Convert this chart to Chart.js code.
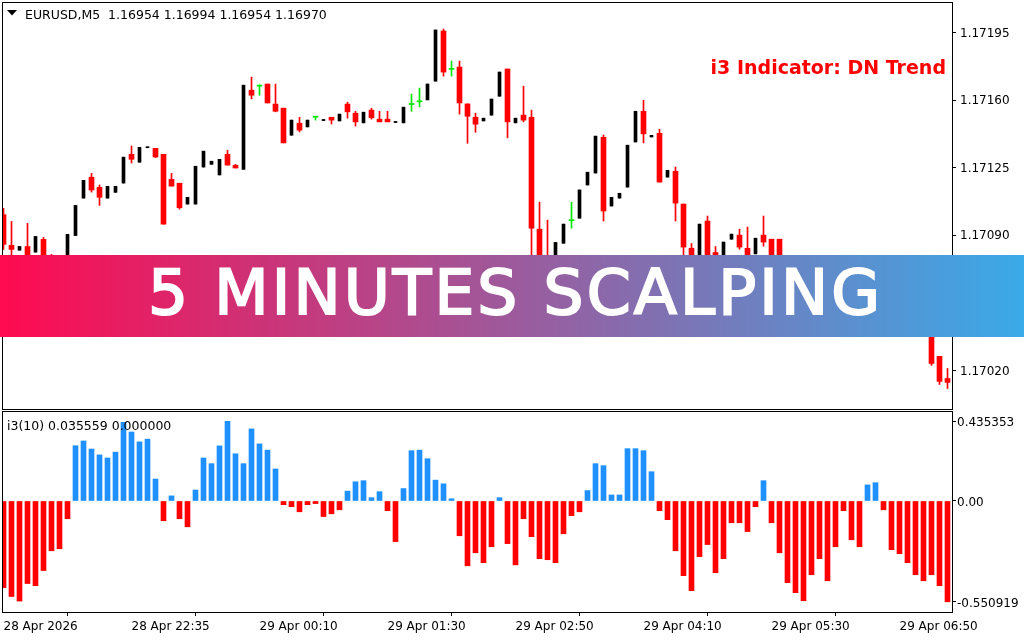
<!DOCTYPE html>
<html>
<head>
<meta charset="utf-8">
<title>EURUSD M5 - i3 indicator</title>
<script src="https://cdn.jsdelivr.net/npm/chart.js@4.4.0/dist/chart.umd.min.js"></script>
<style>
    html, body { margin: 0; padding: 0; background: #fff; }
    #wrap { position: relative; width: 1024px; height: 640px; overflow: hidden; }
    #priceChart { position: absolute; left: 0; top: 0; }
    #i3Chart { position: absolute; left: 0; top: 410px; }
    #banner {
        position: absolute; left: 0; top: 255px; width: 1024px; height: 82px;
        background: linear-gradient(to right, #ff0a50, #3aaae8);
        text-align: center; overflow: hidden;
    }
    #bannerText {
        position: relative; top: 6px; left: 2px; display: inline-block;
        font-family: "DejaVu Sans", sans-serif; font-size: 63px; line-height: 1;
        color: #fff; -webkit-text-stroke: 2px #fff; white-space: nowrap;
    }
</style>
</head>
<body>
<div id="wrap">
    <canvas id="priceChart" width="1024" height="410"></canvas>
    <canvas id="i3Chart" width="1024" height="230"></canvas>
    <div id="banner"><span id="bannerText">5 MINUTES SCALPING</span></div>
</div>
<script>
// candles, oldest -> newest (EURUSD M5)
const opens = [
    1.171007, 1.170848, 1.170823, 1.170842, 1.170813, 1.170879, 1.170780, 1.170750, 1.170720, 1.170899,
    1.171093, 1.171201, 1.171149, 1.171093, 1.171123, 1.171171, 1.171320, 1.171279, 1.171354, 1.171351,
    1.171320, 1.171190, 1.171170, 1.171062, 1.171062, 1.171254, 1.171268, 1.171213, 1.171320, 1.171263,
    1.171242, 1.171652, 1.171673, 1.171684, 1.171580, 1.171559, 1.171419, 1.171481, 1.171462, 1.171512,
    1.171495, 1.171512, 1.171493, 1.171580, 1.171533, 1.171483, 1.171549, 1.171502, 1.171502, 1.171485,
    1.171483, 1.171578, 1.171592, 1.171602, 1.171699, 1.171959, 1.171760, 1.171772, 1.171581, 1.171512,
    1.171493, 1.171523, 1.171621, 1.171762, 1.171483, 1.171523, 1.171512, 1.170932, 1.170760, 1.170680,
    1.170859, 1.170976, 1.170989, 1.171161, 1.171223, 1.171408, 1.171052, 1.171093, 1.171150, 1.171384,
    1.171543, 1.171410, 1.171429, 1.171202, 1.171232, 1.171062, 1.170833, 1.170760, 1.170974, 1.170811,
    1.170770, 1.170880, 1.170901, 1.170833, 1.170804, 1.170901, 1.170880, 1.170880, 1.170700, 1.170640,
    1.170590, 1.170540, 1.170580, 1.170600, 1.170520, 1.170570, 1.170650, 1.170600, 1.170630, 1.170690,
    1.170660, 1.170580, 1.170540, 1.170550, 1.170490, 1.170480, 1.170410, 1.170273, 1.170158
];
const highs = [
    1.171040, 1.170972, 1.170842, 1.170962, 1.170894, 1.170889, 1.170801, 1.170770, 1.170905, 1.171055,
    1.171185, 1.171221, 1.171161, 1.171154, 1.171154, 1.171305, 1.171363, 1.171356, 1.171358, 1.171351,
    1.171320, 1.171221, 1.171170, 1.171097, 1.171258, 1.171336, 1.171284, 1.171294, 1.171341, 1.171268,
    1.171678, 1.171720, 1.171680, 1.171684, 1.171684, 1.171559, 1.171497, 1.171512, 1.171497, 1.171512,
    1.171499, 1.171512, 1.171528, 1.171590, 1.171543, 1.171538, 1.171559, 1.171543, 1.171543, 1.171487,
    1.171564, 1.171632, 1.171663, 1.171684, 1.171964, 1.171969, 1.171803, 1.171803, 1.171581, 1.171533,
    1.171507, 1.171606, 1.171746, 1.171762, 1.171507, 1.171673, 1.171549, 1.171072, 1.170979, 1.170863,
    1.170958, 1.171072, 1.171135, 1.171227, 1.171414, 1.171420, 1.171097, 1.171118, 1.171367, 1.171543,
    1.171600, 1.171418, 1.171450, 1.171237, 1.171254, 1.171062, 1.170858, 1.170958, 1.171000, 1.170842,
    1.170865, 1.170906, 1.170932, 1.170943, 1.170885, 1.171000, 1.170880, 1.170880, 1.170720, 1.170660,
    1.170610, 1.170600, 1.170620, 1.170610, 1.170580, 1.170660, 1.170660, 1.170640, 1.170700, 1.170710,
    1.170670, 1.170600, 1.170570, 1.170560, 1.170520, 1.170500, 1.170420, 1.170273, 1.170210
];
const lows = [
    1.170827, 1.170780, 1.170823, 1.170739, 1.170813, 1.170739, 1.170710, 1.170690, 1.170720, 1.170899,
    1.171093, 1.171124, 1.171055, 1.171093, 1.171123, 1.171171, 1.171275, 1.171279, 1.171354, 1.171303,
    1.170958, 1.171155, 1.171036, 1.171062, 1.171062, 1.171254, 1.171268, 1.171213, 1.171264, 1.171249,
    1.171242, 1.171607, 1.171626, 1.171586, 1.171540, 1.171379, 1.171419, 1.171436, 1.171462, 1.171497,
    1.171495, 1.171477, 1.171493, 1.171507, 1.171466, 1.171483, 1.171502, 1.171488, 1.171488, 1.171485,
    1.171483, 1.171543, 1.171566, 1.171602, 1.171699, 1.171725, 1.171725, 1.171528, 1.171377, 1.171434,
    1.171493, 1.171523, 1.171621, 1.171405, 1.171483, 1.171488, 1.170759, 1.170660, 1.170640, 1.170680,
    1.170859, 1.170937, 1.170989, 1.171161, 1.171223, 1.170974, 1.171052, 1.171093, 1.171150, 1.171384,
    1.171379, 1.171410, 1.171176, 1.171202, 1.170974, 1.170780, 1.170739, 1.170760, 1.170740, 1.170740,
    1.170770, 1.170880, 1.170828, 1.170720, 1.170804, 1.170844, 1.170750, 1.170680, 1.170620, 1.170570,
    1.170520, 1.170520, 1.170550, 1.170500, 1.170510, 1.170560, 1.170580, 1.170580, 1.170620, 1.170640,
    1.170570, 1.170520, 1.170500, 1.170375, 1.170450, 1.170375, 1.170226, 1.170127, 1.170106
];
const closes = [
    1.170853, 1.170827, 1.170842, 1.170759, 1.170894, 1.170759, 1.170740, 1.170710, 1.170905, 1.171055,
    1.171185, 1.171135, 1.171097, 1.171154, 1.171154, 1.171305, 1.171294, 1.171356, 1.171358, 1.171306,
    1.170958, 1.171155, 1.171043, 1.171097, 1.171258, 1.171336, 1.171284, 1.171294, 1.171264, 1.171249,
    1.171678, 1.171626, 1.171673, 1.171586, 1.171543, 1.171379, 1.171497, 1.171445, 1.171497, 1.171512,
    1.171499, 1.171497, 1.171528, 1.171540, 1.171488, 1.171538, 1.171509, 1.171488, 1.171488, 1.171487,
    1.171564, 1.171578, 1.171592, 1.171684, 1.171964, 1.171746, 1.171760, 1.171586, 1.171517, 1.171476,
    1.171507, 1.171606, 1.171746, 1.171488, 1.171507, 1.171497, 1.170937, 1.170720, 1.170680, 1.170863,
    1.170958, 1.170976, 1.171135, 1.171227, 1.171414, 1.171026, 1.171097, 1.171118, 1.171367, 1.171543,
    1.171426, 1.171418, 1.171176, 1.171237, 1.171067, 1.170839, 1.170760, 1.170958, 1.170780, 1.170770,
    1.170865, 1.170906, 1.170839, 1.170759, 1.170885, 1.170865, 1.170780, 1.170700, 1.170640, 1.170590,
    1.170540, 1.170580, 1.170600, 1.170520, 1.170570, 1.170650, 1.170600, 1.170630, 1.170690, 1.170660,
    1.170580, 1.170540, 1.170550, 1.170490, 1.170470, 1.170400, 1.170236, 1.170143, 1.170138
];

// i3(10) histogram, one value per candle
const i3Values = [
    -0.474, -0.522, -0.547, -0.451, -0.463, -0.380, -0.272, -0.261, -0.097, 0.302,
    0.328, 0.284, 0.252, 0.235, 0.267, 0.430, 0.377, 0.323, 0.338, 0.120,
    -0.108, 0.028, -0.097, -0.141, 0.060, 0.235, 0.204, 0.301, 0.435353, 0.258,
    0.204, 0.394, 0.312, 0.278, 0.175, -0.020, -0.031, -0.059, -0.020, -0.014,
    -0.085, -0.070, -0.048, 0.054, 0.105, 0.111, 0.018, 0.051, -0.053, -0.222,
    0.068, 0.275, 0.278, 0.231, 0.114, 0.094, 0.012, -0.190, -0.354, -0.283,
    -0.337, -0.250, 0.018, -0.233, -0.349, -0.097, -0.195, -0.315, -0.321, -0.337,
    -0.179, -0.080, -0.059, 0.057, 0.204, 0.193, 0.033, 0.033, 0.286, 0.286,
    0.275, 0.160, -0.053, -0.102, -0.272, -0.408, -0.490, -0.304, -0.238, -0.392,
    -0.315, -0.119, -0.119, -0.167, -0.031, 0.111, -0.119, -0.283, -0.446, -0.501,
    -0.545, -0.403, -0.315, -0.436, -0.250, -0.053, -0.212, -0.250, 0.088, 0.100,
    -0.048, -0.266, -0.288, -0.337, -0.403, -0.436, -0.403, -0.463, -0.550919
];

const priceTicks = [1.17020, 1.17055, 1.17090, 1.17125, 1.17160, 1.17195];
const i3Ticks = [0.435353, 0, -0.550919];
const timeTickIndex = [0, 16, 32, 48, 64, 80, 96, 112];
const timeTickLabels = ['28 Apr 2026', '28 Apr 22:35', '29 Apr 00:10', '29 Apr 01:30',
    '29 Apr 02:50', '29 Apr 04:10', '29 Apr 05:30', '29 Apr 06:50'];

// visible window in bar units (8px per bar)
const X_MIN = -0.0625;
const X_MAX = 118.5625;

const FONT = '"DejaVu Sans", Verdana, sans-serif';
const BULL = '#000000';
const BEAR = '#ff0000';
const DOJI = '#00e600';

function candleColor(i) {
    if (closes[i] > opens[i]) return BULL;
    if (closes[i] < opens[i]) return BEAR;
    return DOJI;
}

const bars = closes.map((c, i) => i);
const bullBodies = bars.filter(i => closes[i] > opens[i]).map(i => ({ x: i, y: [opens[i], closes[i]] }));
const bearBodies = bars.filter(i => closes[i] < opens[i]).map(i => ({ x: i, y: [closes[i], opens[i]] }));
const dojiBodies = bars.filter(i => closes[i] === opens[i]).map(i => ({ x: i, y: [opens[i], closes[i]] }));
const wicks = bars.map(i => ({ x: i, y: [lows[i], highs[i]] }));

// black frame round the plot area
const framePlugin = {
    id: 'frame',
    afterDraw(chart) {
        const { ctx, chartArea: a } = chart;
        ctx.save();
        ctx.strokeStyle = '#000';
        ctx.lineWidth = 1;
        ctx.strokeRect(a.left - 0.5, a.top - 0.5, a.right - a.left + 1, a.bottom - a.top + 1);
        ctx.restore();
    }
};

const priceLabels = {
    id: 'priceLabels',
    afterDraw(chart) {
        const ctx = chart.ctx;
        ctx.save();
        // dropdown marker
        ctx.fillStyle = '#000';
        ctx.beginPath();
        ctx.moveTo(7, 10);
        ctx.lineTo(17, 10);
        ctx.lineTo(12, 15.5);
        ctx.closePath();
        ctx.fill();
        ctx.font = '12.5px ' + FONT;
        ctx.textBaseline = 'alphabetic';
        ctx.fillText('EURUSD,M5  1.16954 1.16994 1.16954 1.16970', 25, 19);
        ctx.font = 'bold 19px ' + FONT;
        ctx.fillStyle = '#ff0000';
        ctx.textAlign = 'right';
        ctx.fillText('i3 Indicator: DN Trend', 946, 74);
        ctx.restore();
    }
};

const i3Labels = {
    id: 'i3Labels',
    afterDraw(chart) {
        const ctx = chart.ctx;
        ctx.save();
        ctx.fillStyle = '#000';
        ctx.font = '12.5px ' + FONT;
        ctx.textBaseline = 'alphabetic';
        ctx.fillText('i3(10) 0.035559 0.000000', 7, 20);
        ctx.restore();
    }
};

function bodySet(data, color, width) {
    return {
        data: data,
        backgroundColor: color,
        borderWidth: 0,
        barThickness: width,
        minBarLength: 1,
        grouped: false
    };
}

// Render price candles
function renderPriceChart() {
    const ctx = document.getElementById('priceChart').getContext('2d');
    new Chart(ctx, {
        type: 'bar',
        data: {
            datasets: [
                bodySet(bullBodies, BULL, 3),
                bodySet(bearBodies, BEAR, 5),
                bodySet(dojiBodies, DOJI, 5),
                {
                    data: wicks,
                    backgroundColor: c => candleColor(c.raw.x),
                    borderWidth: 0,
                    barThickness: 1,
                    grouped: false
                }
            ]
        },
        options: {
            responsive: false,
            animation: false,
            events: [],
            layout: { padding: { left: 3, top: 3, right: 0, bottom: 1 } },
            plugins: { legend: { display: false }, tooltip: { enabled: false } },
            scales: {
                x: { type: 'linear', min: X_MIN, max: X_MAX, offset: false, display: false },
                y: {
                    type: 'linear',
                    position: 'right',
                    min: 1.17000,
                    max: 1.172104,
                    border: { display: false },
                    grid: { drawOnChartArea: false, drawTicks: true, tickLength: 4, color: '#000' },
                    afterBuildTicks: s => { s.ticks = priceTicks.map(v => ({ value: v })); },
                    afterFit: s => { s.width = 72; s.paddingTop = 0; s.paddingBottom = 0; },
                    ticks: {
                        padding: 4,
                        labelOffset: 1,
                        color: '#000',
                        font: { family: FONT, size: 12 },
                        callback: v => v.toFixed(5)
                    }
                }
            }
        },
        plugins: [framePlugin, priceLabels]
    });
}

// Render i3 histogram
function renderI3Chart() {
    const ctx = document.getElementById('i3Chart').getContext('2d');
    new Chart(ctx, {
        type: 'bar',
        data: {
            datasets: [{
                data: bars.map(i => ({ x: i, y: i3Values[i] })),
                backgroundColor: c => (c.raw.y >= 0 ? '#1e90ff' : '#ff0000'),
                borderWidth: 0,
                barThickness: 5,
                grouped: false
            }]
        },
        options: {
            responsive: false,
            animation: false,
            events: [],
            layout: { padding: { left: 3, top: 2, right: 0, bottom: 0 } },
            plugins: { legend: { display: false }, tooltip: { enabled: false } },
            scales: {
                x: {
                    type: 'linear',
                    min: X_MIN,
                    max: X_MAX,
                    offset: false,
                    border: { display: false },
                    grid: { drawOnChartArea: false, drawTicks: true, tickLength: 4, color: '#000' },
                    afterBuildTicks: s => { s.ticks = timeTickIndex.map(v => ({ value: v })); },
                    afterFit: s => { s.height = 28; s.paddingLeft = 0; s.paddingRight = 0; },
                    ticks: {
                        autoSkip: false,
                        maxRotation: 0,
                        align: 'start',
                        padding: 4,
                        color: '#000',
                        font: { family: FONT, size: 12 },
                        callback: (v, i) => timeTickLabels[i]
                    }
                },
                y: {
                    type: 'linear',
                    position: 'right',
                    min: -0.6066,
                    max: 0.4863,
                    border: { display: false },
                    grid: { drawOnChartArea: false, drawTicks: true, tickLength: 4, color: '#000' },
                    afterBuildTicks: s => { s.ticks = i3Ticks.map(v => ({ value: v })); },
                    afterFit: s => { s.width = 72; s.paddingTop = 0; s.paddingBottom = 0; },
                    ticks: {
                        padding: 1,
                        labelOffset: 2,
                        color: '#000',
                        font: { family: FONT, size: 12 },
                        callback: v => (v === 0 ? '0.00' : v.toFixed(6))
                    }
                }
            }
        },
        plugins: [framePlugin, i3Labels]
    });
}

// stretch the banner caption to its width in the picture
function fitBanner() {
    const span = document.getElementById('bannerText');
    const w = span.getBoundingClientRect().width;
    const n = span.textContent.length;
    const ls = (732 - w) / (n - 1);
    span.style.letterSpacing = ls + 'px';
    span.style.marginRight = (-ls) + 'px';
}

renderPriceChart();
renderI3Chart();
fitBanner();
</script>
</body>
</html>
